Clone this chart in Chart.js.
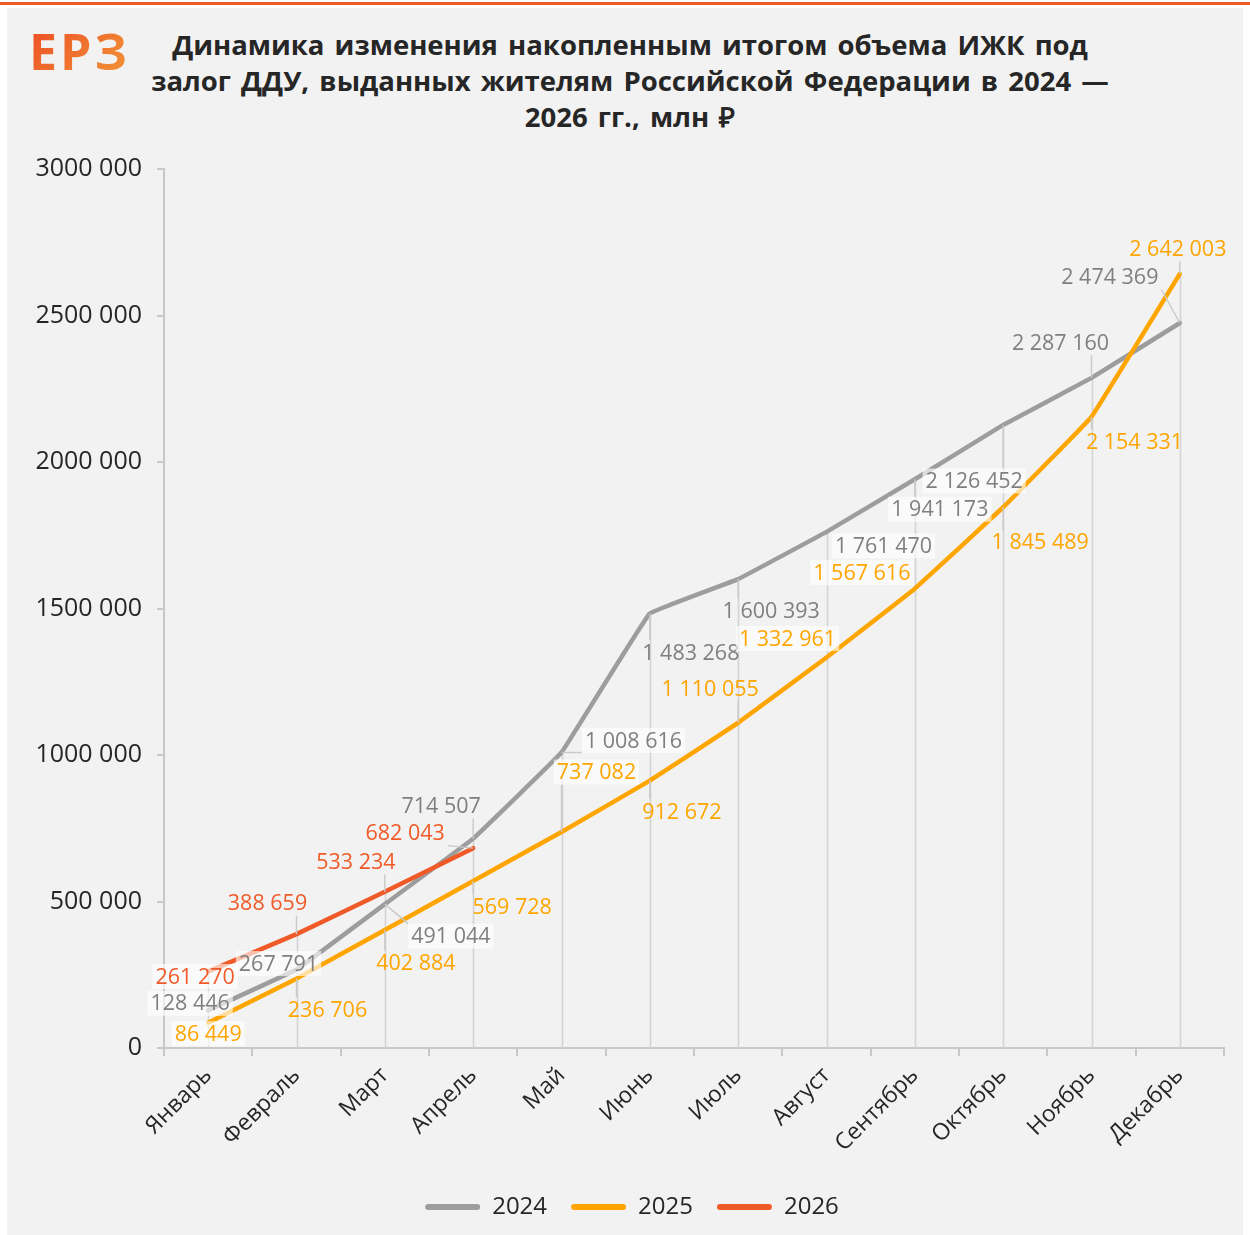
<!DOCTYPE html>
<html><head><meta charset="utf-8">
<script src="https://cdn.jsdelivr.net/npm/chart.js@4.4.1/dist/chart.umd.min.js"></script>
<style>
html,body{margin:0;padding:0;background:#fff;width:1250px;height:1235px;overflow:hidden;}
#topline{position:absolute;left:0;top:2px;width:1250px;height:3px;background:#f05a28;}
#panel{position:absolute;left:7px;top:8px;width:1236px;height:1227px;background:#f2f2f2;}
#logo{position:absolute;left:29px;top:17px;font:700 50px "Open Sans";letter-spacing:3px;background:linear-gradient(135deg,#ec4a22 0%,#f39a3a 100%);-webkit-background-clip:text;background-clip:text;color:transparent;}
#title{position:absolute;left:130px;width:1000px;top:27px;text-align:center;font:700 27.5px "Open Sans";line-height:36px;color:#262626;word-spacing:3px;}
#c{position:absolute;left:0;top:0;}
</style></head>
<body>
<div id="topline"></div>
<div id="panel"></div>
<div id="logo">ЕРЗ</div>
<div id="title">Динамика  изменения  накопленным  итогом объема ИЖК под<br>залог ДДУ, выданных жителям  Российской Федерации  в 2024 —<br>2026 гг., млн ₽</div>
<canvas id="c" width="1250" height="1235"></canvas>
<script>
const months = ['Январь','Февраль','Март','Апрель','Май','Июнь','Июль','Август','Сентябрь','Октябрь','Ноябрь','Декабрь'];
const seriesNames = ['2024','2025','2026'];
const values2024 = [128446,267791,491044,714507,1008616,1483268,1600393,1761470,1941173,2126452,2287160,2474369];
const values2025 = [86449,236706,402884,569728,737082,912672,1110055,1332961,1567616,1845489,2154331,2642003];
const values2026 = [261270,388659,533234,682043];
const yTickLabels = ['0','500 000','1000 000','1500 000','2000 000','2500 000','3000 000'];

// style: label offsets (px from point) and whether label has a light box
const offsets2024 = [[-18,-7],[-18,-6],[66,32],[-32,-33],[72,-12],[41,39],[33,32],[57,14],[25,30],[-29,56],[-31,-35],[-70,-46]];
const offsets2025 = [[0,11],[31,31],[31,33],[39,26],[35,-60],[32,31],[-28,-34],[-39,-19],[-53,-16],[37,35],[43,25],[-2,-25]];
const offsets2026 = [[-13,5],[-29,-31],[-29,-30],[-68,-15]];
const boxes2024 = [1,1,1,0,1,0,0,1,1,1,0,0];
const boxes2025 = [1,0,0,0,1,0,0,1,1,0,0,0];
const boxes2026 = [1,0,0,0];

const FONT = '"Open Sans", "DejaVu Sans", sans-serif';
const colors = ['#9d9d9d','#ffa500','#f05a28'];
const labelColors = ['#7f7f7f','#ffa500','#f05a28'];
const allOffsets = [offsets2024, offsets2025, offsets2026];
const allBoxes = [boxes2024, boxes2025, boxes2026];

function fmt(v){ return String(v).replace(/\B(?=(\d{3})+(?!\d))/g,' '); }

const dropLines = {
  id:'dropLines',
  beforeDatasetsDraw(chart){
    const ctx = chart.ctx, x = chart.scales.x, y = chart.scales.y;
    ctx.save();
    ctx.strokeStyle = '#d3d3d3'; ctx.lineWidth = 1.6;
    months.forEach((m,i)=>{
      let mx = -Infinity;
      chart.data.datasets.forEach(ds=>{ if (ds.data[i]!=null) mx = Math.max(mx, ds.data[i]); });
      const px = Math.round(x.getPixelForValue(i)) + 0.5;
      ctx.beginPath(); ctx.moveTo(px, y.getPixelForValue(0)); ctx.lineTo(px, y.getPixelForValue(mx)); ctx.stroke();
    });
    ctx.restore();
  }
};

const dataLabels = {
  id:'dataLabels',
  afterDatasetsDraw(chart){
    const ctx = chart.ctx;
    ctx.save();
    ctx.font = '21.5px ' + FONT;
    ctx.textAlign = 'center'; ctx.textBaseline = 'middle';
    const items = [];
    chart.data.datasets.forEach((ds,di)=>{
      const meta = chart.getDatasetMeta(di);
      meta.data.forEach((pt,i)=>{
        const off = allOffsets[di][i];
        const txt = fmt(ds.data[i]);
        const w = ctx.measureText(txt).width + 6, h = 25;
        const cx = pt.x + off[0], cy = pt.y + off[1];
        items.push({pt, cx, cy, w, h, txt, di, box: allBoxes[di][i]});
      });
    });
    ctx.strokeStyle = '#c9c9c9'; ctx.lineWidth = 1.4;
    items.forEach(it=>{
      const l = it.cx - it.w/2, r = it.cx + it.w/2, t = it.cy - it.h/2, b = it.cy + it.h/2;
      const qx = Math.min(Math.max(it.pt.x, l), r), qy = Math.min(Math.max(it.pt.y, t), b);
      if (Math.hypot(qx-it.pt.x, qy-it.pt.y) > 8) {
        ctx.beginPath(); ctx.moveTo(it.pt.x, it.pt.y); ctx.lineTo(qx, qy); ctx.stroke();
      }
    });
    items.forEach(it=>{
      if (it.box) {
        ctx.fillStyle = 'rgba(255,255,255,0.62)';
        ctx.fillRect(it.cx - it.w/2, it.cy - it.h/2, it.w, it.h);
      }
      ctx.fillStyle = labelColors[it.di];
      ctx.fillText(it.txt, it.cx, it.cy + 1);
    });
    ctx.restore();
  }
};

const legendShift = {
  id:'legendShift',
  afterLayout(chart){ if (chart.legend) { chart.legend.left += 10; chart.legend.right += 10; } }
};

const datasets = [values2024, values2025, values2026].map((vals,i)=>({
  label: seriesNames[i], data: vals, borderColor: colors[i], backgroundColor: colors[i],
  borderWidth: 4.5, pointRadius: 0, tension: 0.05, borderCapStyle:'round', borderJoinStyle:'round',
  order: 3 - i
}));

new Chart(document.getElementById('c'), {
  type:'line',
  data:{ labels: months, datasets },
  plugins:[dropLines, dataLabels, legendShift],
  options:{
    responsive:false, animation:false,
    layout:{padding:{left:20, top:169, right:26, bottom:6}},
    plugins:{
      tooltip:{enabled:false},
      legend:{position:'bottom', labels:{
        boxWidth:55, boxHeight:6, useBorderRadius:true, borderRadius:3,
        font:{size:24, family:FONT}, color:'#262626', padding:24,
        sort:(a,b)=>a.datasetIndex-b.datasetIndex,
        generateLabels(chart){
          const items = Chart.defaults.plugins.legend.labels.generateLabels(chart);
          items.forEach(it=>{ it.lineWidth = 0; it.strokeStyle = 'rgba(0,0,0,0)'; });
          return items;
        }
      }}
    },
    scales:{
      x:{ offset:true,
        grid:{offset:true, drawOnChartArea:false, tickLength:8, color:'#c8c8c8', lineWidth:2},
        border:{color:'#c8c8c8', width:2},
        ticks:{minRotation:45, maxRotation:45, font:{size:23, family:FONT}, color:'#262626', padding:6},
        afterFit(s){ s.height = 123; }
      },
      y:{ min:0, max:3000000,
        ticks:{stepSize:500000, callback:(v)=>yTickLabels[Math.round(v/500000)], font:{size:25, family:FONT}, color:'#262626', padding:15},
        grid:{drawOnChartArea:false, tickLength:7, color:'#c8c8c8', lineWidth:2},
        border:{color:'#c8c8c8', width:2},
        afterFit(s){ s.width = 144; }
      }
    }
  }
});
</script>
</body></html>
